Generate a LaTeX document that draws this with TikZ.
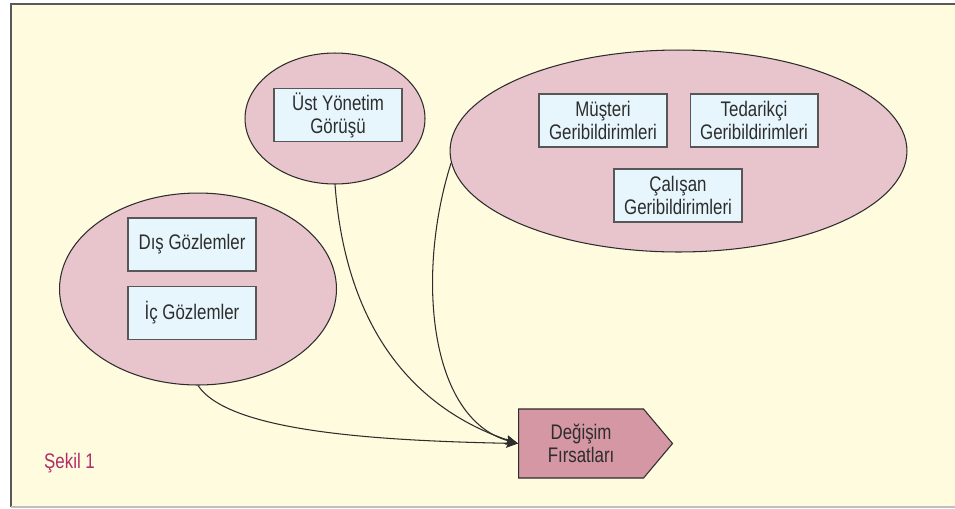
\documentclass[tikz,border=0pt]{standalone}
\usepackage{fontspec}
\setmainfont[FakeStretch=0.8]{Liberation Sans}
\usetikzlibrary{positioning,arrows.meta,shapes.geometric,shapes.symbols}
\definecolor{paper}{RGB}{255,251,222}
\definecolor{blush}{RGB}{232,197,205}
\definecolor{icy}{RGB}{231,246,253}
\definecolor{rose}{RGB}{213,151,163}
\definecolor{ink}{RGB}{45,45,45}
\definecolor{plum}{RGB}{176,45,106}

\begin{document}
\begin{tikzpicture}[
  x=0.02cm, y=-0.02cm,
  font=\fontsize{12}{13}\selectfont,
  grp/.style={ellipse, draw=ink, fill=blush, line width=0.6pt, inner sep=0pt},
  item/.style={draw=ink!80, fill=icy, line width=0.6pt, align=center, inner sep=2pt,
               minimum width=2.56cm, minimum height=1.06cm, text=ink},
  goal/.style={signal, signal to=east, signal pointer angle=100, draw=ink, fill=rose,
               line width=0.6pt, align=center, minimum width=3.08cm, minimum height=1.38cm,
               inner sep=2pt, text=ink},
  ar/.style={-{Stealth[length=6.8pt,width=5.2pt,inset=1.2pt]}, draw=ink, line width=0.6pt},
  lay/.style={text=plum, anchor=base west},
]
\useasboundingbox (0,0) rectangle (955,508);
\fill[paper] (11,4) rectangle (955,507);
\draw[line width=0.6pt, draw=black!65] (955,4) -- (11,4) -- (11,507);
\draw[line width=0.6pt, draw=black!25] (11,507) -- (955,507);

% groups
\node[grp, minimum width=5.54cm, minimum height=3.84cm] (obs) at (198,289) {};
\node[grp, minimum width=3.6cm,  minimum height=2.62cm] (mgmt) at (335,118.5) {};
\node[grp, minimum width=9.14cm, minimum height=4.04cm] (fb)  at (678.5,151) {};

% items
\node[item] (dis) at (192,244.5) {Dış Gözlemler};
\node[item] (ic)  at (192,313)   {İç Gözlemler};
\node[item] (ust) at (338,115)   {Üst Yönetim\\Görüşü};
\node[item] (mus) at (603,120.5) {Müşteri\\Geribildirimleri};
\node[item] (ted) at (754,120.5) {Tedarikçi\\Geribildirimleri};
\node[item] (cal) at (678,195.5) {Çalışan\\Geribildirimleri};

\node[goal, anchor=west] (sig) at (518,443.5) {Değişim\\Fırsatları};

\draw[ar] (obs.south) .. controls +(30,45) and +(-150,-3) .. (sig.west);
\draw[ar] (mgmt.south) .. controls +(12,160) and +(-90,-30) .. (sig.west);
\draw[ar] (fb.183) .. controls +(-35,110) and +(-90,-25) .. (sig.west);

\node[lay] (fig) at (38,468) {Şekil 1};

\end{tikzpicture}
\end{document}
